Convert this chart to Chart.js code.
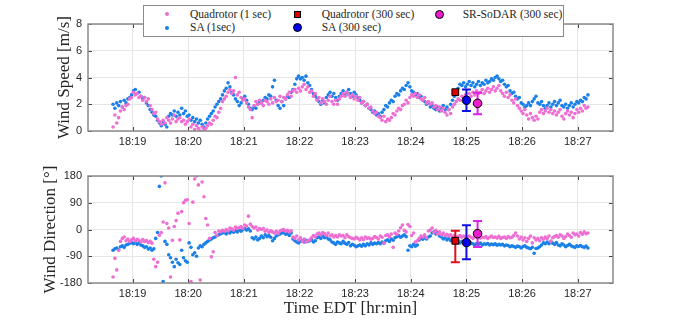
<!DOCTYPE html>
<html>
<head>
<meta charset="utf-8">
<script src="https://cdn.jsdelivr.net/npm/chart.js@4.4.1/dist/chart.umd.min.js"></script>
<style>
  html, body { margin: 0; padding: 0; background: #fff; }
  #wrap { position: relative; width: 680px; height: 320px; overflow: hidden; }
  .panel { position: absolute; left: 0; width: 680px; height: 160px; }
  #legend { position: absolute; left: 143px; top: 5px; width: 419px; height: 30px; background: #fff;
            border: 1px solid #8a8a8a; font-family: "Liberation Serif", "DejaVu Serif", serif;
            font-size: 11.5px; color: #262626; }
  .item { position: absolute; white-space: nowrap; line-height: 13px; }
  .mk { position: absolute; box-sizing: border-box; }
</style>
</head>
<body>
<div id="wrap">
  <div class="panel" style="top:0"><canvas id="speedChart" width="680" height="160"></canvas></div>
  <div class="panel" style="top:160px"><canvas id="dirChart" width="680" height="160"></canvas></div>
  <div id="legend">
    <span class="mk" style="left:20.7px;top:6.3px;width:4px;height:4px;border-radius:50%;background:#ee6ed2"></span>
    <span class="item" style="left:46px;top:1.8px">Quadrotor (1 sec)</span>
    <span class="mk" style="left:20.7px;top:19.7px;width:4px;height:4px;border-radius:50%;background:#1a80e8"></span>
    <span class="item" style="left:46px;top:15.2px">SA (1sec)</span>
    <span class="mk" style="left:150.2px;top:4.8px;width:7px;height:7px;background:#e00000;border:1px solid #000"></span>
    <span class="item" style="left:177.7px;top:1.8px">Quadrotor (300 sec)</span>
    <span class="mk" style="left:149.2px;top:17.2px;width:9px;height:9px;border-radius:50%;background:#0000ee;border:1px solid #000"></span>
    <span class="item" style="left:177.7px;top:15.2px">SA (300 sec)</span>
    <span class="mk" style="left:290.8px;top:3.8px;width:9px;height:9px;border-radius:50%;background:#ee1ccc;border:1px solid #000"></span>
    <span class="item" style="left:318.7px;top:1.8px">SR-SoDAR (300 sec)</span>
  </div>
</div>
<script>
// x axis: minutes shown, and the visible window
const tickLabels = ['18:19', '18:20', '18:21', '18:22', '18:23', '18:24', '18:25', '18:26', '18:27'];
const axisStart = '18:18:12';
const axisEnd = '18:27:38';
const speedTicks = [0, 2, 4, 6, 8];
const dirTicks = [-180, -90, 0, 90, 180];

// 1 s records, read every 2 s
const sampleStart = '18:18:39';
const sampleStep = 2;

const quadSpeed = [
  0.3, 1.2, 0.6, 1.0, 1.5, 1.8, 1.6, 1.9, 2.0, 2.4,
  2.5, 2.9, 2.7, 2.8, 2.5, 2.6, 2.3, 2.5, 2.2, 2.4,
  1.9, 1.6, 1.3, 1.4, 0.9, 0.7, 0.5, 0.8, 0.6, 1.0,
  0.8, 0.6, 0.9, 1.2, 0.7, 0.9, 1.0, 0.7, 0.8, 0.5,
  0.7, 0.9, 0.3, 0.5, 0.1, 0.4, 0.2, 0.0, 0.3, 0.1,
  0.2, 0.4, 0.6, 0.5, 0.8, 1.1, 1.0, 1.4, 1.7, 2.2,
  2.4, 2.6, 2.9, 3.1, 2.8, 3.0, 4.0, 2.7, 2.9, 2.5,
  2.3, 2.4, 2.1, 1.8, 1.6, 1.0, 1.9, 2.2, 2.0, 2.3,
  2.1, 1.9, 2.3, 2.2, 2.0, 2.4, 2.1, 2.5, 2.2, 2.3,
  2.6, 2.2, 2.5, 2.4, 2.7, 2.9, 2.6, 3.0, 3.1, 2.9,
  3.2, 3.0, 3.3, 3.5, 3.1, 3.3, 2.9, 3.0, 2.6, 2.8,
  2.3, 2.5, 2.1, 2.4, 2.2, 2.0, 2.3, 2.6, 2.2, 2.0,
  2.3, 2.0, 2.4, 2.6, 2.8, 2.6, 2.9, 2.7, 2.5, 2.7,
  2.4, 2.6, 2.3, 2.5, 2.1, 2.2, 1.9, 2.0, 1.7, 1.8,
  1.5, 1.3, 1.4, 1.1, 1.0, 0.8, 1.1, 0.7, 0.9, 0.8,
  1.0, 1.3, 1.2, 1.5, 1.7, 1.6, 1.9, 2.0, 2.3, 2.1,
  2.5, 2.7, 2.6, 2.8, 2.5, 2.7, 2.4, 2.3, 2.5, 2.1,
  2.2, 2.0, 2.1, 1.8, 1.9, 1.6, 1.8, 1.5, 1.7, 1.4,
  1.2, 1.6, 1.3, 1.8, 2.0, 2.2, 2.4, 2.3, 2.6, 2.5,
  2.7, 2.5, 2.8, 2.6, 2.9, 2.7, 3.0, 2.8, 2.9, 3.1,
  2.8, 3.0, 3.2, 2.9, 3.1, 3.3, 3.0, 3.2, 3.4, 3.0,
  2.8, 2.6, 2.9, 2.5, 2.7, 2.3, 2.1, 2.4, 1.9, 1.7,
  1.5, 1.3, 1.6, 1.2, 0.9, 1.3, 1.0, 0.8, 1.1, 0.9,
  1.4, 1.6, 1.3, 1.5, 1.7, 1.4, 1.6, 1.3, 1.5, 1.2,
  1.4, 1.6, 1.1, 0.9, 1.3, 1.5, 1.2, 1.4, 1.0, 1.3,
  1.6, 1.4, 1.7, 1.5, 1.9, 1.7, 1.8
];
const saSpeed = [
  2.0, 1.7, 2.1, 1.9, 2.2, 1.8, 2.3, 2.1, 2.4, 2.5,
  2.7, 3.0, 3.1, 2.8, 2.9, 2.6, 2.4, 2.5, 2.1, 1.9,
  1.6, 1.4, 1.2, 1.1, 0.8, 0.6, 0.4, 0.7, 0.5, 0.3,
  1.1, 1.3, 1.2, 1.5, 1.1, 1.4, 1.2, 1.7, 1.3, 1.5,
  1.1, 1.2, 0.8, 1.0, 0.7, 0.9, 0.6, 0.8, 0.5, 0.3,
  0.6, 0.9, 1.1, 1.3, 1.5, 1.8, 2.0, 2.2, 2.4, 2.7,
  3.0, 3.2, 3.6, 3.3, 2.9, 2.7, 2.4, 2.2, 1.9, 2.1,
  2.4, 2.6, 2.3, 2.0, 1.7, 1.6, 1.8, 1.7, 2.0, 2.2,
  2.1, 2.3, 2.5, 2.4, 2.7, 2.6, 3.3, 3.8, 2.3, 1.9,
  1.7, 2.2, 1.9, 2.4, 2.6, 2.5, 2.9, 3.1, 3.5, 3.9,
  4.1, 3.9, 4.0, 3.8, 4.1, 3.6, 3.4, 3.1, 2.8, 2.6,
  2.4, 2.2, 2.0, 2.3, 2.1, 2.5, 2.7, 2.9, 2.6, 2.8,
  2.5, 2.3, 2.6, 2.8, 3.0, 2.7, 2.9, 3.1, 2.8, 2.6,
  2.9, 2.7, 2.5, 2.3, 2.1, 2.2, 1.9, 2.0, 1.7, 1.6,
  1.4, 1.5, 1.2, 1.3, 1.1, 1.4, 1.6, 1.9, 1.8, 2.1,
  2.3, 2.2, 2.6, 2.8, 2.7, 3.0, 3.2, 3.1, 3.4, 3.6,
  3.3, 3.0, 2.9, 2.7, 2.8, 2.5, 2.6, 2.3, 2.2, 2.0,
  2.1, 1.8, 1.9, 1.7, 1.6, 1.8, 1.5, 1.7, 1.9, 1.6,
  1.8, 1.6, 2.0, 2.3, 2.6, 2.9, 3.2, 3.5, 3.4, 3.6,
  3.3, 3.5, 3.7, 3.4, 3.6, 3.3, 3.5, 3.7, 3.4, 3.6,
  3.5, 3.8, 3.6, 3.7, 3.9, 3.8, 4.0, 4.1, 3.9, 3.7,
  3.8, 3.5, 3.3, 3.4, 3.0, 2.8, 2.9, 2.6, 2.4, 2.5,
  2.1, 2.0, 1.8, 1.9, 2.1, 1.9, 2.2, 2.4, 2.6, 2.1,
  2.0, 2.2, 1.9, 1.7, 1.9, 2.1, 1.8, 2.0, 2.2, 1.9,
  2.1, 2.3, 1.9, 1.8, 2.0, 1.7, 1.9, 2.1, 1.8, 2.0,
  2.2, 2.1, 2.3, 2.2, 2.5, 2.4, 2.7
];
const quadDir = [
  -160, -97, -136, -70, -40, -30, -25, -38, -32, -40,
  -35, -30, -38, -33, -36, -42, -34, -40, -37, -44,
  -40, -46, -100, -125, -110, -19, -10, 25, 157, 20,
  5, -160, -36, 10, 30, 55, -35, 60, 90, 98,
  100, 20, -175, 92, 170, 180, 150, -170, 160, 110,
  37, 15, -30, -92, -75, -10, -20, -5, -8, -3,
  -6, 0, -4, 5, 2, -2, 8, 4, 6, 10,
  4, 15, 12, 45, 18, 10, 5, 8, -2, 3,
  0, 3, -6, -2, -10, -4, -8, -12, -6, -14,
  -5, -2, 0, -6, -3, -8, -4, -25, -30, -22,
  -35, -28, -40, -32, -42, -38, -35, -28, -20, -24,
  -15, -12, -18, -10, -14, -20, -12, -22, -18, -25,
  -20, -25, -18, -22, -20, -28, -18, -24, -28, -30,
  -32, -26, -30, -35, -28, -34, -25, -30, -28, -33,
  -30, -24, -27, -32, -22, -26, -45, -20, -18, -24,
  -15, -60, -12, -16, -5, 6, 15, -3, -8, 17,
  10, -20, -12, -42, -38, -30, -22, -25, -18, -28,
  -5, -2, 5, -10, -3, -15, -8, -18, -12, -20,
  -16, -22, -18, -25, -20, -28, -24, -20, -26, -22,
  -25, -28, -22, -26, -30, -24, -27, -25, -29, -26,
  -28, -24, -30, -26, -22, -27, -25, -29, -23, -30,
  -27, -25, -30, -24, -28, -26, -20, -12, -22, -32,
  -25, -35, -28, -40, -30, -22, -45, -28, -35, -30,
  -38, -28, -33, -25, -30, -22, -40, -28, -24, -20,
  -26, -18, -22, -30, -24, -15, -20, -26, -12, -18,
  -15, -22, -10, -16, -8, -14, -12
];
const saDir = [
  -70, -65, -62, -68, -58, -55, -60, -52, -50, -46,
  -44, -48, -42, -50, -45, -52, -55, -60, -58, -66,
  -62, -70, -65, -30, -10, 145, 180, -175, -40, -50,
  -85, -95, -110, -125, -100, -112, -118, -70, -95, -105,
  -110, -45, -60, -85, -78, -90, -62, -55, -58, -50,
  -45, -40, -35, -32, -28, -25, -20, -18, -14, -12,
  -10, -15, -8, -12, -6, -9, -4, -8, -2, -6,
  0, 3, -2, 2, -5, -28, -32, -25, -35, -30,
  -22, -28, -18, -24, -20, -26, -38, -30, -22, -18,
  -15, -12, -10, -16, -14, -20, -12, -32, -38, -42,
  -45, -40, -38, -42, -36, -40, -38, -34, -42, -38,
  -28, -25, -30, -22, -28, -25, -32, -35, -42, -45,
  -50, -42, -45, -48, -40, -46, -50, -44, -55, -50,
  -53, -58, -55, -52, -56, -50, -55, -48, -52, -45,
  -50, -46, -48, -44, -48, -42, -46, -38, -35, -40,
  -32, -36, -28, -24, -20, -26, -22, -18, -24, -70,
  -55, -58, -50, -56, -52, -35, -30, -33, -28, -32,
  -25, -22, -12, -8, -15, -10, -22, -25, -32, -28,
  -35, -30, -38, -33, -40, -42, -38, -45, -40, -44,
  -48, -44, -50, -46, -48, -52, -47, -50, -46, -52,
  -48, -50, -47, -52, -49, -51, -48, -53, -50, -52,
  -50, -55, -52, -54, -58, -55, -57, -60, -56, -58,
  -62, -57, -55, -60, -62, -65, -60, -80, -64, -62,
  -58, -52, -45, -48, -42, -48, -40, -46, -50, -44,
  -52, -55, -48, -52, -58, -54, -50, -55, -58, -60,
  -55, -57, -54, -58, -60, -56, -62
];

// 300 s averages: quadrotor, SA, SR-SoDAR
const avgTimes = ['18:24:48', '18:25:00', '18:25:12'];
const avgSpeed = [2.9, 2.3, 2.07];
const avgSpeedLow = [null, 1.5, 1.25];
const avgSpeedHigh = [null, 3.1, 2.86];
const avgDir = [-38, -44, -14];
const avgDirLow = [-110, -100, -59];
const avgDirHigh = [-4, 14, 29];

const pink = '#ee6ed2';
const blue = '#1a80e8';
const avgFill = ['#e00000', '#0000ee', '#ee1ccc'];
const avgBar = ['#e01020', '#1010e0', '#e020e6'];

function toSec(clock) {
  const p = clock.split(':').map(Number);
  return (p[0] - 18) * 3600 + (p[1] - 18) * 60 + (p[2] || 0);
}

const t0 = toSec(sampleStart);
const sampleTimes = quadSpeed.map((v, i) => t0 + i * sampleStep);
const tickSecs = tickLabels.map(toSec);

const errorBars = {
  id: 'errorBars',
  beforeDatasetDraw(chart, args, opts) {
    if (args.index !== 0) return;
    const ctx = chart.ctx;
    const xs = chart.scales.x, ys = chart.scales.y;
    ctx.save();
    ctx.lineWidth = 2;
    opts.low.forEach((lo, i) => {
      if (lo === null) return;
      const x = xs.getPixelForValue(toSec(avgTimes[i]));
      const y1 = ys.getPixelForValue(lo);
      const y2 = ys.getPixelForValue(opts.high[i]);
      ctx.strokeStyle = avgBar[i];
      ctx.beginPath();
      ctx.moveTo(x, y1); ctx.lineTo(x, y2);
      ctx.moveTo(x - 4.5, y1); ctx.lineTo(x + 4.5, y1);
      ctx.moveTo(x - 4.5, y2); ctx.lineTo(x + 4.5, y2);
      ctx.stroke();
    });
    ctx.restore();
  }
};

const frame = {
  id: 'frame',
  afterDraw(chart) {
    const ctx = chart.ctx;
    const a = chart.chartArea;
    const xs = chart.scales.x, ys = chart.scales.y;
    ctx.save();
    ctx.strokeStyle = '#444';
    ctx.lineWidth = 1;
    ctx.beginPath();
    xs.ticks.forEach(t => {
      const x = Math.round(xs.getPixelForValue(t.value)) + 0.5;
      ctx.moveTo(x, a.bottom); ctx.lineTo(x, a.bottom - 4);
      ctx.moveTo(x, a.top); ctx.lineTo(x, a.top + 4);
    });
    ys.ticks.forEach(t => {
      const y = Math.round(ys.getPixelForValue(t.value)) + 0.5;
      ctx.moveTo(a.left, y); ctx.lineTo(a.left + 4, y);
      ctx.moveTo(a.right, y); ctx.lineTo(a.right - 4, y);
    });
    ctx.stroke();
    ctx.strokeStyle = '#8a8a8a';
    ctx.lineWidth = 1.5;
    ctx.strokeRect(a.left, a.top, a.right - a.left, a.bottom - a.top);
    ctx.restore();
  }
};

const tickFont = { family: '"Liberation Sans", Arial, sans-serif', size: 11 };
const titleFont = { family: '"Liberation Serif", "DejaVu Serif", serif', size: 17 };

function makeChart(id, series1, series2, avg, low, high, yTicks, opt) {
  const ctx = document.getElementById(id).getContext('2d');
  return new Chart(ctx, {
    type: 'scatter',
    data: {
      datasets: [
        {
          label: 'avg',
          data: avgTimes.map((t, i) => ({ x: toSec(t), y: avg[i] })),
          pointStyle: ['rect', 'circle', 'circle'],
          pointRadius: [4.8, 4.3, 4.3],
          pointBackgroundColor: avgFill,
          pointBorderColor: '#000',
          pointBorderWidth: 1
        },
        {
          label: 'Quadrotor (1 sec)',
          data: series1.map((v, i) => ({ x: sampleTimes[i], y: v })),
          pointRadius: 1.8,
          pointBorderWidth: 0,
          pointBackgroundColor: pink
        },
        {
          label: 'SA (1sec)',
          data: series2.map((v, i) => ({ x: sampleTimes[i], y: v })),
          pointRadius: 1.8,
          pointBorderWidth: 0,
          pointBackgroundColor: blue
        }
      ]
    },
    options: {
      responsive: false,
      animation: false,
      events: [],
      layout: { padding: { left: 0, right: 67, top: opt.top, bottom: 0 } },
      plugins: {
        legend: { display: false },
        tooltip: { enabled: false },
        errorBars: { low: low, high: high }
      },
      scales: {
        x: {
          type: 'linear',
          min: toSec(axisStart),
          max: toSec(axisEnd),
          afterBuildTicks: s => { s.ticks = tickSecs.map(v => ({ value: v })); },
          afterFit: s => { s.height = opt.xHeight; },
          border: { display: false },
          grid: { color: '#e6e6e6', drawTicks: false },
          ticks: {
            padding: 4, font: tickFont, color: '#262626', autoSkip: false, maxRotation: 0,
            callback: (v, i) => tickLabels[i]
          },
          title: {
            display: !!opt.xTitle, text: opt.xTitle || '', font: titleFont, color: '#262626',
            padding: { top: 0, bottom: 1 }
          }
        },
        y: {
          min: yTicks[0],
          max: yTicks[yTicks.length - 1],
          afterBuildTicks: s => { s.ticks = yTicks.map(v => ({ value: v })); },
          afterFit: s => { s.width = 88; },
          border: { display: false },
          grid: { color: '#e6e6e6', drawTicks: false },
          ticks: { padding: 6, font: tickFont, color: '#262626' },
          title: {
            display: true, text: opt.yTitle, font: titleFont, color: '#262626',
            padding: { top: opt.yTitlePad, bottom: 0 }
          }
        }
      }
    },
    plugins: [errorBars, frame]
  });
}

document.addEventListener('DOMContentLoaded', function() {
  makeChart('speedChart', quadSpeed, saSpeed, avgSpeed, avgSpeedLow, avgSpeedHigh, speedTicks,
    { top: 24, xHeight: 29, yTitle: 'Wind Speed [m/s]', yTitlePad: 54 });
  makeChart('dirChart', quadDir, saDir, avgDir, avgDirLow, avgDirHigh, dirTicks,
    { top: 16, xHeight: 37, yTitle: 'Wind Direction [°]', yTitlePad: 40, xTitle: 'Time EDT [hr:min]' });
});
</script>
</body>
</html>
